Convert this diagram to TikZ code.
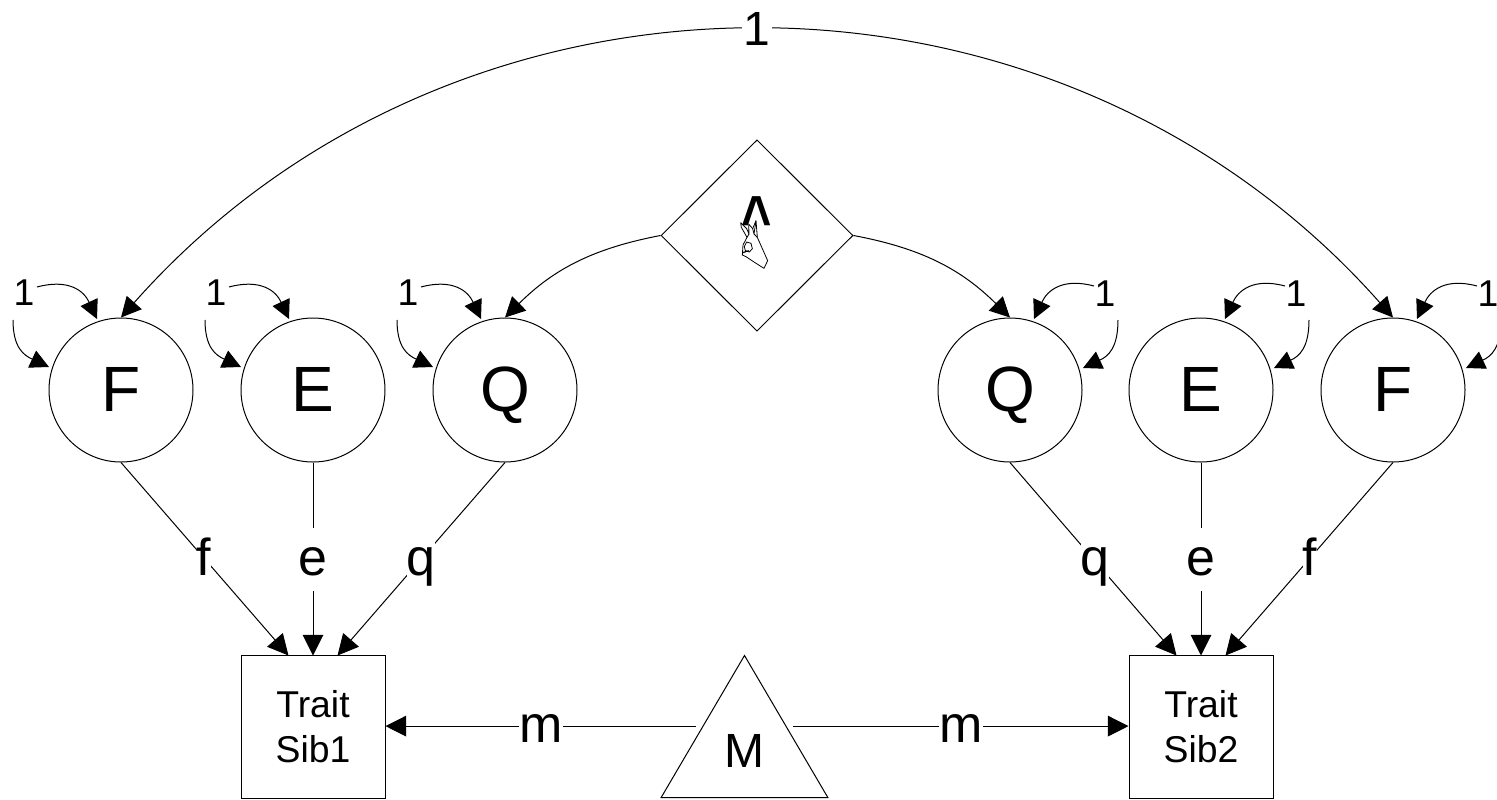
\documentclass[tikz,border=0pt]{standalone}
\usepackage{fontspec}
\setmainfont{Liberation Sans}
\usetikzlibrary{arrows.meta,calc,shapes.geometric}
\tikzset{
  bigtip/.style={-{Triangle[length=15.5pt,width=15.5pt]}},
  curvetip/.style={-{Triangle[length=14pt,width=14pt]}},
  arctip/.style={-{Triangle[length=15pt,width=15pt]}},
  latent/.style={circle,draw,fill=white,minimum size=108pt,inner sep=0pt,text height=34.5pt,text depth=3pt,font=\fontsize{48}{48}\selectfont},
  obs/.style={rectangle,draw,fill=white,minimum width=108pt,minimum height=107pt,inner sep=0pt,align=center,font=\fontsize{28}{33}\selectfont},
  lab/.style={fill=white,inner sep=0pt,anchor=base,text height=35pt,text depth=12pt,font=\fontsize{39}{39}\selectfont},
  unit/.style={inner sep=1pt,font=\fontsize{28}{28}\selectfont},
}
\begin{document}
\begin{tikzpicture}[x=0.75pt,y=-0.75pt,line width=0.75pt]
\useasboundingbox (0,0) rectangle (1497,800);
\clip (0,0) rectangle (1497,800);
\fill[white] (0,0) rectangle (1497,800);
% latent variables
\node[latent] (F1) at (121,390) {F};
\node[latent] (E1) at (313,390) {E};
\node[latent] (Q1) at (505,390) {Q};
\node[latent] (Q2) at (1010,390) {Q};
\node[latent] (E2) at (1201,390) {E};
\node[latent] (F2) at (1393,390) {F};
% observed
\node[obs] (S1) at (313,727) {\raisebox{1.5pt}{Trait}\\\raisebox{1pt}{Sib1}};
\node[obs] (S2) at (1201,727) {\raisebox{1.5pt}{Trait}\\\raisebox{1pt}{Sib2}};
% mean
\node[diamond,draw,minimum width=144pt,minimum height=143.5pt,inner sep=0pt] (D) at (757,235.5) {};
\node[xscale=.78,font=\bfseries\fontsize{50}{50}\selectfont,inner sep=0pt] (caret) at (757,220) {\char"5E};
\begin{scope}[shift={(650,130)},x=.25pt,y=-.25pt,line width=.6pt,fill=white]
  \filldraw[line join=round] (318,272) -- (322,322) -- (353,392) -- (342,415) -- (315,398) -- (288,380) -- (277,375) -- (279,345) -- (291,322) -- (274,292) -- (272,278) -- (290,296) -- (297,312) -- (296,282) -- (308,296) -- (312,312) -- cycle;
  \draw (297,312) -- (291,322) (312,312) -- (322,322) (308,296) -- (318,272);
  \draw (290,336) -- (303,340) -- (307,356) -- (298,366) -- (286,362) -- (283,350) -- cycle;
  \draw[line width=.9pt] (278,368) -- (296,362);
\end{scope}
\node[isosceles triangle,shape border rotate=90,isosceles triangle stretches,draw,minimum height=106.5pt,minimum width=125pt,inner sep=0pt,anchor=lower side] (T) at (744.5,798) {};
\node[font=\fontsize{36}{36}\selectfont,inner sep=0pt] (M) at (744.5,751) {M};
% top covariance
\draw[{Triangle[length=15pt,width=15pt]}-{Triangle[length=15pt,width=15pt]}] (F1.north) .. controls (459,-64) and (1055,-64) .. (F2.north);
\node[fill=white,inner sep=0pt,minimum width=22.5pt,font=\fontsize{36}{36}\selectfont] (one) at (757,29) {1};
% diamond to Q
\draw[arctip] (D.west) to[bend right=17] (Q1.north);
\draw[arctip] (D.east) to[bend left=17] (Q2.north);
% paths with labels
\foreach \a/\n/\xx in {F1/a/288.5,E1/b/313,Q1/c/337.5,Q2/d/1176.5,E2/e/1201,F2/f/1225.5}{
  \coordinate (end\n) at (\xx,655.5);
  \draw[bigtip] (\a.south) -- (end\n);
}
\foreach \p/\t in {204/f,313/e,421/q,1095/q,1201/e,1310/f}{
  \node[lab] (l\p) at (\p,575) {\t};
}
% means
\draw[bigtip,shorten <=4.9pt] (T.left side) -- (S1.east |- T.left side);
\draw[bigtip,shorten <=4.9pt] (T.right side) -- (S2.west |- T.right side);
\node[lab] (m1) at (541,742) {m};
\node[lab] (m2) at (961,742) {m};
% self loops left
\foreach \c/\n in {F1/a,E1/b,Q1/c}{
  \path (\c) ++(-97,-97) node[unit] (u\n) {1};
  \coordinate (r\n) at ($(\c)+(-84,-103)$);
  \coordinate (t\n) at ($(\c)+(-24,-71)$);
  \coordinate (b\n) at ($(\c)+(-72,-23)$);
  \coordinate (s\n) at ($(\c)+(-108,-70)$);
  \draw[curvetip] (r\n) to[out=15,in=115,looseness=1.2] (t\n);
  \draw[curvetip] (s\n) to[out=-90,in=155,looseness=1.2] (b\n);
}
% self loops right
\foreach \c/\n in {Q2/d,E2/e,F2/f}{
  \path (\c) ++(95,-96) node[unit] (u\n) {1};
  \coordinate (r\n) at ($(\c)+(84,-104)$);
  \coordinate (t\n) at ($(\c)+(24,-71)$);
  \coordinate (b\n) at ($(\c)+(73,-22)$);
  \coordinate (s\n) at ($(\c)+(108,-70)$);
  \draw[curvetip] (r\n) to[out=165,in=65,looseness=1.2] (t\n);
  \draw[curvetip] (s\n) to[out=-90,in=25,looseness=1.2] (b\n);
}
\end{tikzpicture}
\end{document}
